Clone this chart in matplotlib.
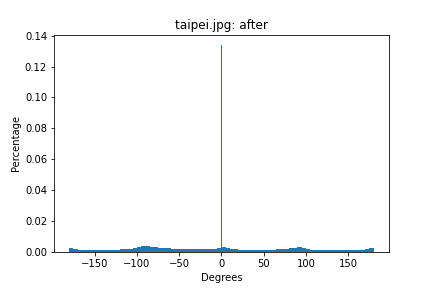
#!/usr/bin/env python3
"""Histogram of gradient orientations for taipei.jpg (after)."""

import matplotlib

matplotlib.use("Agg")
import matplotlib.pyplot as plt

# 5-degree bin edges from -180 to 180
bin_edges = list(range(-180, 185, 5))
bin_pct = [
    0.0024, 0.0022,
    0.0012, 0.0010, 0.0010, 0.0010, 0.0010, 0.0011, 0.0012, 0.0013,
    0.0015, 0.0016, 0.0017, 0.0018,
    0.0022, 0.0028, 0.0033, 0.0036, 0.0036, 0.0034,
    0.0030, 0.0027, 0.0025, 0.0023,
    0.0021, 0.0020, 0.0019, 0.0019, 0.0018, 0.0018, 0.0018, 0.0019,
    0.0019, 0.0020, 0.0022,
    0.0026,
    0.0030, 0.0026, 0.0022, 0.0019,
    0.0015, 0.0013, 0.0012, 0.0011, 0.0011, 0.0012, 0.0013, 0.0014,
    0.0016, 0.0017, 0.0018, 0.0020,
    0.0024, 0.0028, 0.0030, 0.0026,
    0.0020, 0.0016,
    0.0013, 0.0012, 0.0011, 0.0010, 0.0010, 0.0010, 0.0010, 0.0010,
    0.0011, 0.0011, 0.0012, 0.0013,
    0.0020, 0.0025,
]

# single narrow spike at 0
spike_left = [-1.0]
spike_pct = [0.134]

fig, ax = plt.subplots(figsize=(6, 4), dpi=72)
fig.subplots_adjust(bottom=0.125)
ax.stairs(bin_pct, bin_edges, fill=True, color="#1f77b4", linewidth=0)
ax.bar(spike_left, spike_pct, width=2.0, align="edge",
       color="#1f77b4", linewidth=0)
ax.set_xlim(-198, 198)
ax.set_ylim(0, 0.1407)
ax.set_title("taipei.jpg: after")
ax.set_xlabel("Degrees")
ax.set_ylabel("Percentage")

fig.savefig("out.png", dpi=72)
